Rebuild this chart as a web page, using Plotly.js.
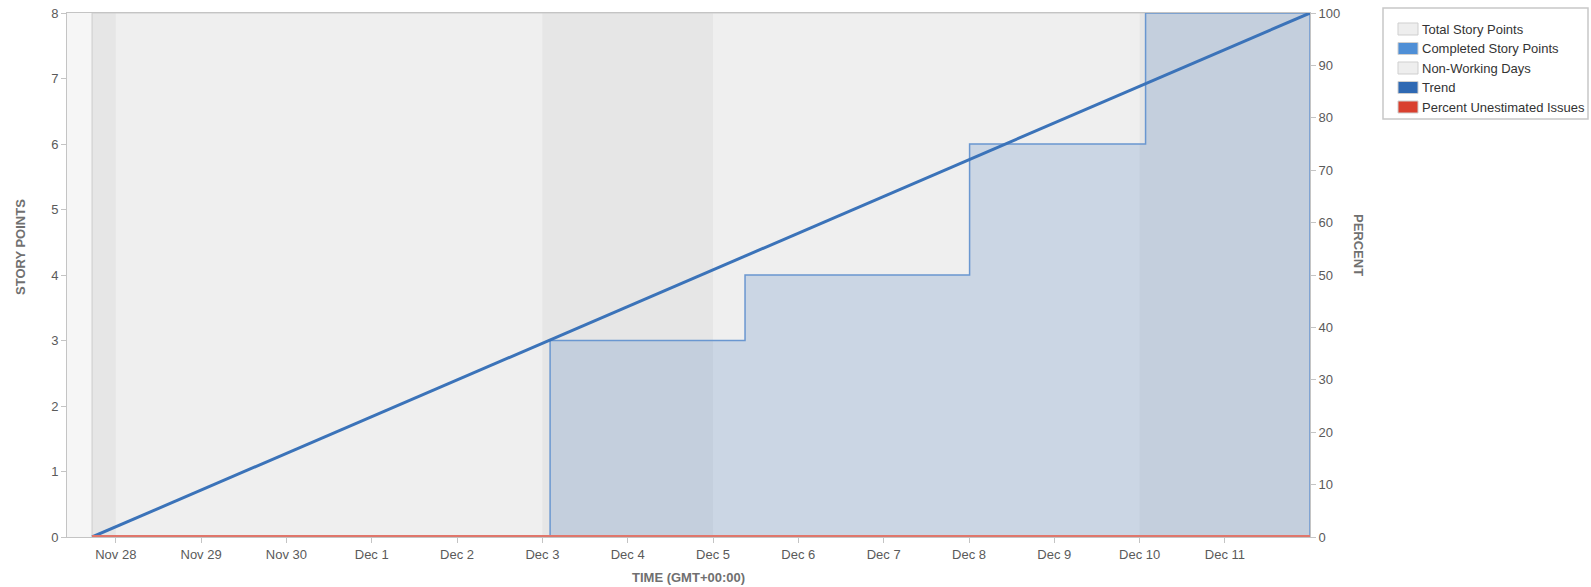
<!DOCTYPE html>
<html>
<head>
<meta charset="utf-8">
<script src="https://cdn.plot.ly/plotly-3.0.1.min.js"></script>
<style>html,body{margin:0;padding:0;background:#fff;}#chart{width:1591px;height:587px;}</style>
</head>
<body>
<div id="chart"></div>
<script>
// ---- data ----
const sprintStart = '2016-11-27 17:20';
const sprintEnd = '2016-12-11 23:55';
const axisStart = '2016-11-27 10:17';

const totalX = [sprintStart, sprintStart, sprintEnd];
const totalY = [0, 8, 8];

const completedX = [sprintStart, '2016-12-03 02:10', '2016-12-05 09:00', '2016-12-08 00:10', '2016-12-10 01:40', sprintEnd, sprintEnd];
const completedY = [0, 3, 4, 6, 8, 8, 0];

const trendX = [sprintStart, sprintEnd];
const trendY = [0, 8];

const unestX = [sprintStart, sprintEnd];
const unestY = [0, 0];

const nonWorkingStart = [sprintStart, '2016-12-03 00:00', '2016-12-10 00:00'];
const nonWorkingEnd = ['2016-11-28 00:00', '2016-12-05 00:00', sprintEnd];

const legendLabels = ['Total Story Points', 'Completed Story Points', 'Non-Working Days', 'Trend', 'Percent Unestimated Issues'];
const legendColors = ['#eeeeee', '#4f8fd6', '#eeeeee', '#2f69b3', '#d9402f'];

// ---- layout helpers (pixel -> paper) ----
const L = 67, R = 1310, T = 13, B = 537;
const px = v => (v - L) / (R - L);
const py = v => (B - v) / (B - T);

const traces = [
  {x: totalX, y: totalY, mode: 'lines', line: {color: '#cccccc', width: 1, shape: 'hv'},
   fill: 'tozeroy', fillcolor: 'rgba(200,200,200,0.15)', hoverinfo: 'skip', showlegend: false},
  {x: completedX, y: completedY, mode: 'lines', line: {color: '#6a97d0', width: 1.5, shape: 'hv'},
   fill: 'tozeroy', fillcolor: 'rgba(59,115,185,0.2)', hoverinfo: 'skip', showlegend: false},
  {x: trendX, y: trendY, mode: 'lines', line: {color: '#3b73b9', width: 3}, hoverinfo: 'skip', showlegend: false},
  {x: unestX, y: unestY, yaxis: 'y2', mode: 'lines', line: {color: '#e0766b', width: 4},
   hoverinfo: 'skip', showlegend: false, cliponaxis: false}
];

const shapes = [];
for (let i = 0; i < nonWorkingStart.length; i++) {
  shapes.push({type: 'rect', xref: 'x', yref: 'paper', x0: nonWorkingStart[i], x1: nonWorkingEnd[i], y0: 0, y1: 1,
    fillcolor: '#ebebeb', line: {width: 0}, layer: 'below'});
}
// legend box
shapes.push({type: 'rect', xref: 'paper', yref: 'paper', x0: px(1383), x1: px(1588), y0: py(119), y1: py(8),
  fillcolor: '#ffffff', line: {color: '#c8c8c8', width: 1.5}});

const annotations = [];
const rowY = [29, 48.5, 68, 87.5, 107];
legendLabels.forEach((lab, i) => {
  shapes.push({type: 'rect', xref: 'paper', yref: 'paper', x0: px(1398), x1: px(1418), y0: py(rowY[i] + 6), y1: py(rowY[i] - 6),
    fillcolor: legendColors[i], line: {color: '#cfcfcf', width: 1}});
  annotations.push({xref: 'paper', yref: 'paper', x: px(1420), y: py(rowY[i]), xanchor: 'left', yanchor: 'middle',
    text: lab, showarrow: false, font: {family: 'Liberation Sans, Arial, sans-serif', size: 13, color: '#333333'}});
});

const titleFont = {family: 'Liberation Sans, Arial, sans-serif', size: 13, color: '#707070', weight: 'bold'};
annotations.push({xref: 'paper', yref: 'paper', x: px(20), y: py(247), text: 'STORY POINTS', textangle: -90,
  showarrow: false, xanchor: 'center', yanchor: 'middle', font: titleFont});
annotations.push({xref: 'paper', yref: 'paper', x: px(1358), y: py(245), text: 'PERCENT', textangle: 90,
  showarrow: false, xanchor: 'center', yanchor: 'middle', font: titleFont});
annotations.push({xref: 'paper', yref: 'paper', x: px(688), y: py(577), text: 'TIME (GMT+00:00)',
  showarrow: false, xanchor: 'center', yanchor: 'middle', font: titleFont});

const tickFont = {family: 'Liberation Sans, Arial, sans-serif', size: 13, color: '#5a5a5a'};

const layout = {
  width: 1591, height: 587,
  margin: {l: L, r: 1591 - R, t: T, b: 587 - B},
  paper_bgcolor: '#ffffff', plot_bgcolor: '#f6f6f6',
  showlegend: false,
  xaxis: {type: 'date', range: [axisStart, sprintEnd], tick0: '2016-11-28', dtick: 86400000, tickformat: '%b %-d',
    showgrid: false, zeroline: false, showline: true, linecolor: '#c4c4c4', linewidth: 1, mirror: true,
    layer: 'below traces',
    ticks: 'outside', ticklen: 5, tickcolor: '#c4c4c4', tickfont: tickFont, fixedrange: true},
  yaxis: {range: [0, 8], dtick: 1, showgrid: false, zeroline: false, showline: true, linecolor: '#c4c4c4',
    ticks: 'outside', ticklen: 5, tickcolor: '#c4c4c4', tickfont: tickFont, fixedrange: true},
  yaxis2: {range: [0, 100], dtick: 10, overlaying: 'y', side: 'right', showgrid: false, zeroline: false,
    layer: 'below traces',
    showline: true, linecolor: '#c4c4c4', ticks: 'outside', ticklen: 5, tickcolor: '#c4c4c4', tickfont: tickFont, fixedrange: true},
  shapes: shapes,
  annotations: annotations
};

Plotly.newPlot('chart', traces, layout, {displayModeBar: false, staticPlot: true});
</script>
</body>
</html>
